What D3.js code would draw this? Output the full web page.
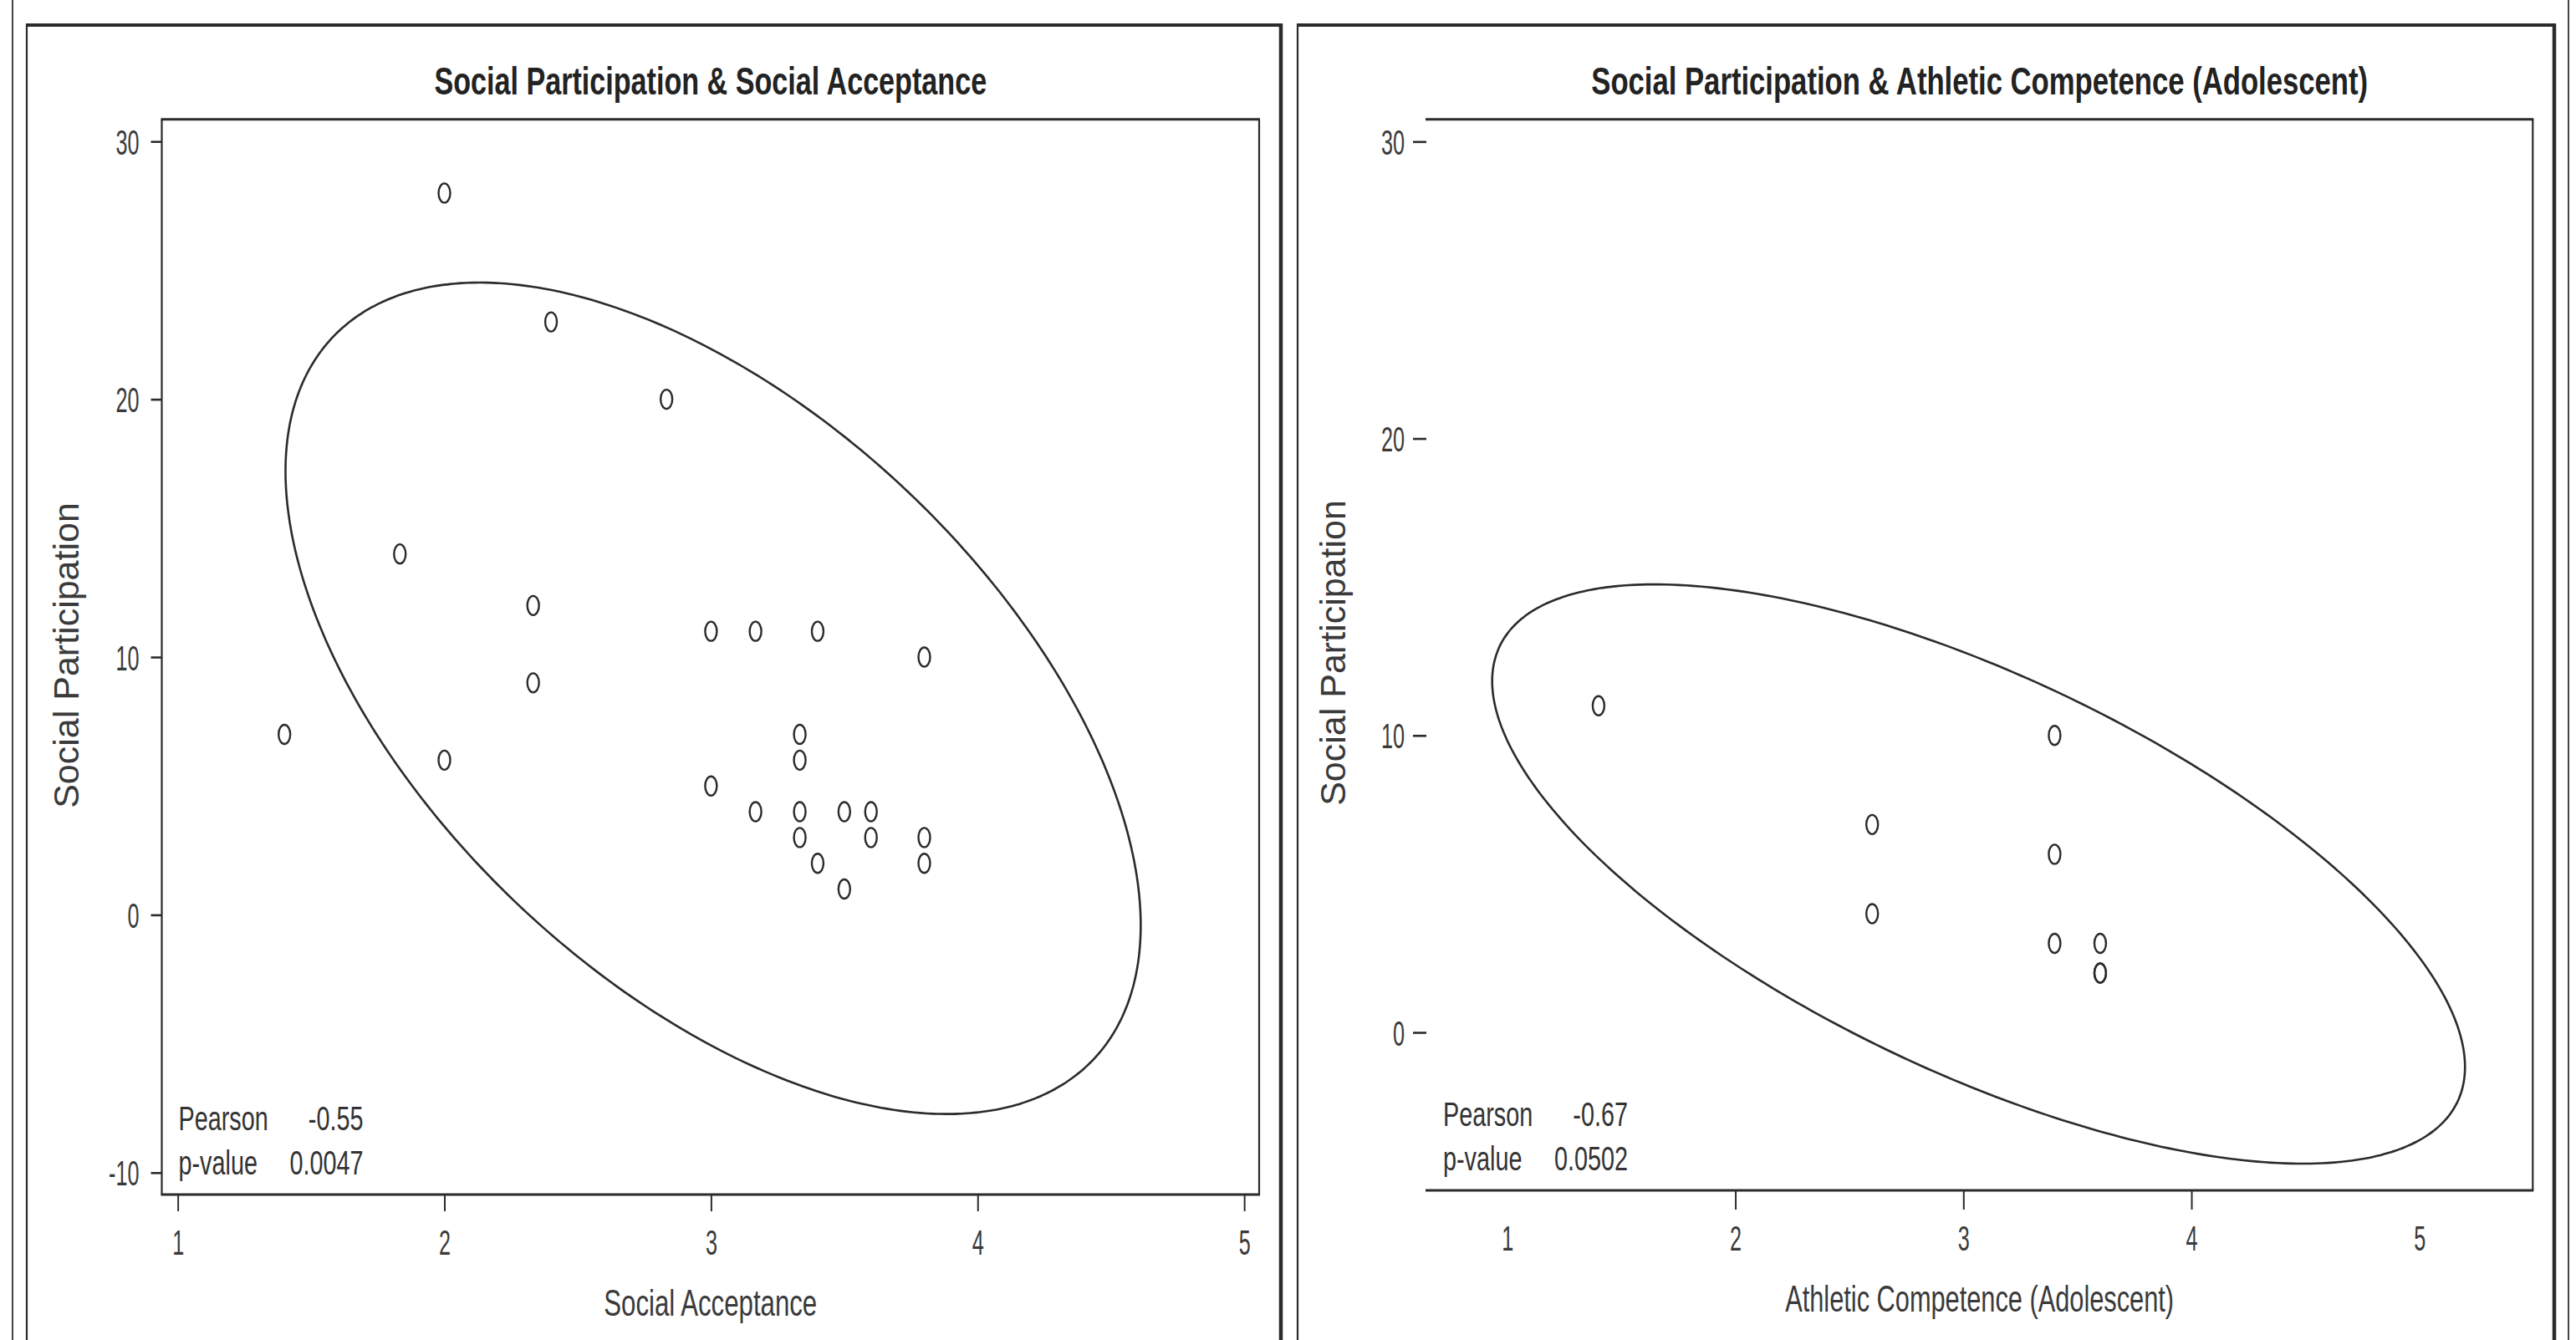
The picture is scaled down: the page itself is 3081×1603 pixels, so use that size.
<!DOCTYPE html>
<html><head><meta charset="utf-8">
<script src="https://cdn.jsdelivr.net/npm/d3@7"></script>
<style>
body{margin:0;background:#fff}
svg{display:block;background:#fff}
text{font-family:"Liberation Sans",Arial,sans-serif;fill:#333}
</style>
</head><body><svg id="c" width="3081" height="1603"></svg>
<script>
// ---------------- data ----------------
const accX = [2, 2.4, 2.833, 1.833, 2.333, 3, 3.167, 3.4, 3.8, 2.333, 1.4, 2, 3.333, 3.333, 3, 3.167, 3.333, 3.5, 3.6, 3.333, 3.6, 3.8, 3.4, 3.8, 3.5];
const accY = [28, 23, 20, 14, 12, 11, 11, 11, 10, 9, 7, 6, 7, 6, 5, 4, 4, 4, 4, 3, 3, 3, 2, 2, 1];
const athX = [1.4, 3.4, 2.6, 3.4, 2.6, 3.4, 3.6, 3.6, 3.6];
const athY = [11, 10, 7, 6, 4, 3, 3, 2, 2];
const xTickValues = [1, 2, 3, 4, 5];
const accYTicks = [-10, 0, 10, 20, 30];
const athYTicks = [0, 10, 20, 30];
const titles = ["Social Participation & Social Acceptance", "Social Participation & Athletic Competence (Adolescent)"];
const xLabels = ["Social Acceptance", "Athletic Competence (Adolescent)"];
const yLabels = ["Social Participation", "Social Participation"];
const statLabels = ["Pearson", "p-value"];
const accStats = ["-0.55", "0.0047"];
const athStats = ["-0.67", "0.0502"];
const accXDomain = [0.94, 5.056], accYDomain = [-10.85, 30.86];
const athXDomain = [0.645, 5.497], athYDomain = [-5.32, 30.75];
const ellipseLevel = 0.90;

// ---------------- layout ----------------
const svg = d3.select("#c");
const INK = "#2b2b2b";

// horizontally condense a text element by factor f (keeps its anchor point)
function squeeze(sel, f) {
  sel.each(function () {
    const t = d3.select(this);
    const x = +t.attr("x") || 0, y = +t.attr("y") || 0;
    t.attr("x", 0).attr("y", 0).attr("transform", `translate(${x},${y}) scale(${f},1)`);
  });
}
// condense to a target width
function squeezeTo(sel, w) {
  sel.each(function () {
    const nat = this.getComputedTextLength();
    d3.select(this).call(squeeze, w / nat);
  });
}

function ellipsePoints(xs, ys, level) {
  const n = xs.length, mx = d3.mean(xs), my = d3.mean(ys);
  let sxx = 0, syy = 0, sxy = 0;
  for (let i = 0; i < n; i++) {
    const dx = xs[i] - mx, dy = ys[i] - my;
    sxx += dx * dx; syy += dy * dy; sxy += dx * dy;
  }
  sxx /= (n - 1); syy /= (n - 1); sxy /= (n - 1);
  const F = ((n - 2) / 2) * (Math.pow(1 - level, -2 / (n - 2)) - 1);
  const k = Math.sqrt(2 * (n - 1) * (n + 1) / (n * (n - 2)) * F);
  const a = Math.sqrt(sxx), b = sxy / a, c = Math.sqrt(syy - b * b);
  return d3.range(0, 360, 1).map(i => {
    const t = i * Math.PI / 180, u = Math.cos(t), v = Math.sin(t);
    return [mx + k * a * u, my + k * (b * u + c * v)];
  });
}

// outer frame lines
svg.append("line").attr("x1", 15).attr("x2", 15).attr("y1", 0).attr("y2", 1603)
  .attr("stroke", "#444").attr("stroke-width", 2);
svg.append("line").attr("x1", 3072).attr("x2", 3072).attr("y1", 0).attr("y2", 1603)
  .attr("stroke", "#444").attr("stroke-width", 2);

const panels = [
  { xs: accX, ys: accY, xd: accXDomain, yd: accYDomain, yt: accYTicks, title: titles[0], xl: xLabels[0], yl: yLabels[0], st: accStats,
    frame: [32, 29, 1532], plot: [193.5, 142.7, 1506, 1429], leftLine: true, titleW: 661, xlW: 255, ylX: 94, ylY: 784,
    xTickLen: 20, yTickLen: 13, yPad: 14, xTickLines: [1, 2, 3, 4, 5] },
  { xs: athX, ys: athY, xd: athXDomain, yd: athYDomain, yt: athYTicks, title: titles[1], xl: xLabels[1], yl: yLabels[1], st: athStats,
    frame: [1552, 29, 3055], plot: [1706, 142.7, 3029.3, 1424], leftLine: false, titleW: 929, xlW: 465, ylX: 1609, ylY: 781,
    xTickLen: 23, yTickLen: 16, yPad: 10, xTickLines: [2, 3, 4] }
];

panels.forEach(p => {
  const [fx0, fy0, fx1] = p.frame;
  const [px0, py0, px1, py1] = p.plot;
  const g = svg.append("g");

  // panel frame
  g.append("line").attr("x1", fx0).attr("x2", fx0).attr("y1", fy0).attr("y2", 1603).attr("stroke", INK).attr("stroke-width", 2.2);
  g.append("line").attr("x1", fx1).attr("x2", fx1).attr("y1", fy0).attr("y2", 1603).attr("stroke", INK).attr("stroke-width", 4.5);
  g.append("line").attr("x1", fx0 - 1).attr("x2", fx1 + 2).attr("y1", fy0 + 1).attr("y2", fy0 + 1).attr("stroke", INK).attr("stroke-width", 3.8);

  const x = d3.scaleLinear().domain(p.xd).range([px0, px1]);
  const y = d3.scaleLinear().domain(p.yd).range([py1, py0]);

  // plot frame
  g.append("line").attr("x1", px0 - 1).attr("x2", px1 + 1).attr("y1", py0).attr("y2", py0).attr("stroke", INK).attr("stroke-width", 3);
  g.append("line").attr("x1", px0 - 1).attr("x2", px1 + 1).attr("y1", py1).attr("y2", py1).attr("stroke", INK).attr("stroke-width", 3.2);
  g.append("line").attr("x1", px1).attr("x2", px1).attr("y1", py0).attr("y2", py1).attr("stroke", INK).attr("stroke-width", 2.2);
  if (p.leftLine) g.append("line").attr("x1", px0).attr("x2", px0).attr("y1", py0).attr("y2", py1).attr("stroke", INK).attr("stroke-width", 2.2);

  // title
  g.append("text").attr("x", (px0 + px1) / 2).attr("y", 113).attr("text-anchor", "middle")
    .attr("font-size", 47).attr("font-weight", "bold").style("fill", "#222").text(p.title)
    .call(squeezeTo, p.titleW);

  // y axis
  const ya = g.append("g").attr("transform", `translate(${px0},0)`)
    .call(d3.axisLeft(y).tickValues(p.yt).tickSize(p.yTickLen).tickPadding(p.yPad).tickFormat(d => String(d)));
  ya.attr("font-size", null).attr("font-family", null);
  ya.select(".domain").remove();
  ya.selectAll(".tick line").attr("stroke", INK).attr("stroke-width", 2.6);
  ya.selectAll(".tick text").attr("font-size", 42).attr("dy", "0.36em").style("fill", "#3a3a3a").call(squeeze, 0.6);

  // x axis
  const xa = g.append("g").attr("transform", `translate(0,${py1})`)
    .call(d3.axisBottom(x).tickValues(xTickValues).tickSize(p.xTickLen).tickFormat(d => String(d)));
  xa.attr("font-size", null).attr("font-family", null);
  xa.select(".domain").remove();
  xa.selectAll(".tick line").attr("stroke", INK).attr("stroke-width", 2)
    .attr("display", d => p.xTickLines.includes(d) ? null : "none");
  xa.selectAll(".tick text").attr("font-size", 42).attr("y", 72).attr("dy", 0).style("fill", "#3a3a3a").call(squeeze, 0.6);

  // axis labels
  g.append("text").attr("x", (px0 + px1) / 2).attr("y", py1 + 145).attr("text-anchor", "middle")
    .attr("font-size", 44).style("fill", "#3a3a3a").text(p.xl).call(squeezeTo, p.xlW);
  g.append("text").attr("transform", `translate(${p.ylX},${p.ylY}) rotate(-90)`).attr("text-anchor", "middle")
    .attr("font-size", 43).style("fill", "#3a3a3a").text(p.yl);

  // ellipse
  const pts = ellipsePoints(p.xs, p.ys, ellipseLevel);
  g.append("path").datum(pts)
    .attr("d", d3.line().x(d => x(d[0])).y(d => y(d[1])).curve(d3.curveCardinalClosed))
    .attr("fill", "none").attr("stroke", INK).attr("stroke-width", 2.6);

  // points
  g.selectAll("ellipse.pt").data(p.xs.map((v, i) => [v, p.ys[i]])).join("ellipse")
    .attr("class", "pt").attr("cx", d => x(d[0])).attr("cy", d => y(d[1]))
    .attr("rx", 7).attr("ry", 11.5).attr("fill", "none").attr("stroke", INK).attr("stroke-width", 2.4);

  // stats
  statLabels.forEach((lab, i) => {
    const by = py1 - 77 + i * 53;
    g.append("text").attr("x", px0 + 20).attr("y", by).attr("font-size", 40).style("fill", "#333").text(lab).call(squeeze, 0.72);
    g.append("text").attr("x", px0 + 241).attr("y", by).attr("text-anchor", "end").attr("font-size", 40).style("fill", "#333").text(p.st[i]).call(squeeze, 0.72);
  });
});
</script>
</body></html>
